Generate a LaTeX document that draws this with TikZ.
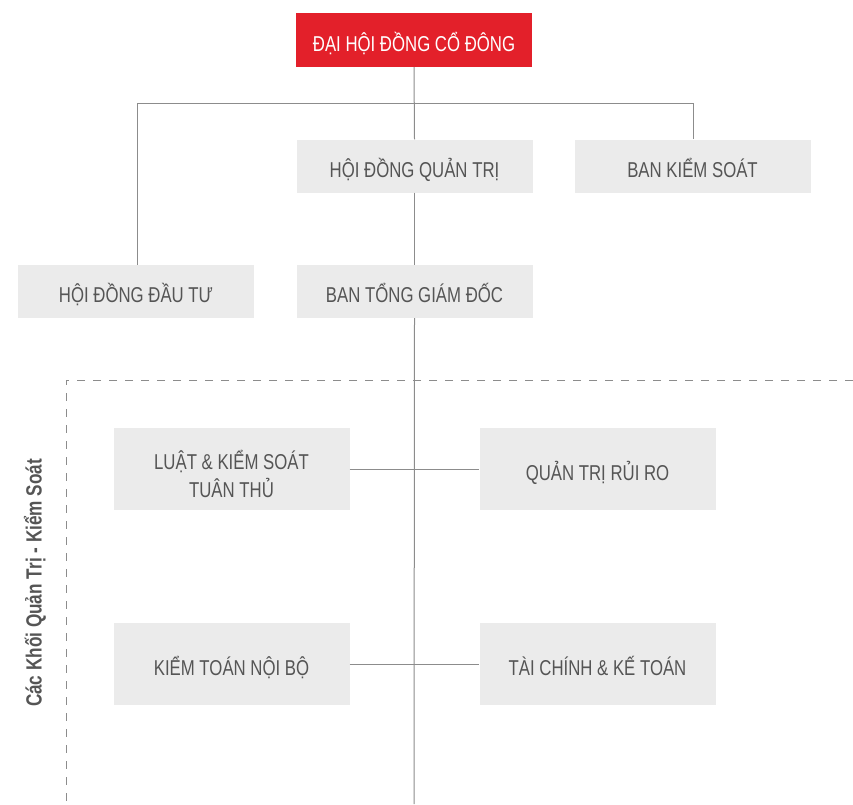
\documentclass[tikz,border=0pt]{standalone}
\usepackage{fontspec}
\setmainfont{Liberation Sans}[FakeStretch=0.78]
\definecolor{boxgray}{HTML}{EBEBEB}
\definecolor{txtgray}{HTML}{555555}
\definecolor{linegray}{HTML}{8C8C8C}
\definecolor{topred}{HTML}{E3202A}
\begin{document}
\begin{tikzpicture}[x=1pt,y=-1pt,
  box/.style={fill=boxgray,draw=none,minimum width=236pt,minimum height=53pt,inner sep=0pt,
    text=txtgray,font=\fontsize{21.5}{28}\selectfont,align=center},
  one/.style={text height=23pt,text depth=1pt},
  bigbox/.style={box,minimum height=82pt},
  conn/.style={draw=linegray,line width=1pt}]
\useasboundingbox (0,0) rectangle (853,804);
\node[box,one,fill=topred,text=white,minimum height=54pt] (dhdcd) at (414,40) {ĐẠI HỘI ĐỒNG CỔ ĐÔNG};
\node[box,one] (hdqt) at (414.5,166) {HỘI ĐỒNG QUẢN TRỊ};
\node[box,one] (bks) at (692.5,166) {BAN KIỂM SOÁT};
\node[box,one] (hddt) at (136,291.5) {HỘI ĐỒNG ĐẦU TƯ};
\node[box,one] (btgd) at (414.5,291.5) {BAN TỔNG GIÁM ĐỐC};
\node[bigbox] (luat) at (231.5,469) {\rule{0pt}{29pt}LUẬT \& KIỂM SOÁT\\TUÂN THỦ};
\node[bigbox,one] (qtrr) at (597.5,469) {QUẢN TRỊ RỦI RO};
\node[bigbox,one] (ktnb) at (231.5,664) {KIỂM TOÁN NỘI BỘ};
\node[bigbox,one] (tckt) at (597.5,664) {TÀI CHÍNH \& KẾ TOÁN};
\coordinate (hl) at (137,103);
\coordinate (hr) at (693,103);
\coordinate (bot) at (414,804);
\draw[conn] (dhdcd.south) -- (hdqt.north);
\draw[conn] (hl) -- (hr);
\draw[conn] (hl) -- (hl |- hddt.north);
\draw[conn] (hr) -- (hr |- bks.north);
\draw[conn] (hdqt.south) -- (btgd.north);
\draw[conn] (btgd.south) -- (bot);
\draw[conn] (luat.east) -- (qtrr.west);
\draw[conn] (ktnb.east) -- (tckt.west);
\coordinate (dtl) at (66,380);
\coordinate (dtr) at (853,380);
\coordinate (dbl) at (66,804);
\draw[draw=linegray,line width=1pt,dash pattern=on 8pt off 8pt] (dtr) -- (dtl) -- (dbl);
\node[rotate=90,text=txtgray,font=\fontsize{22}{26}\selectfont\bfseries] (lbl) at (35,583) {Các Khối Quản Trị - Kiểm Soát};
\end{tikzpicture}
\end{document}
